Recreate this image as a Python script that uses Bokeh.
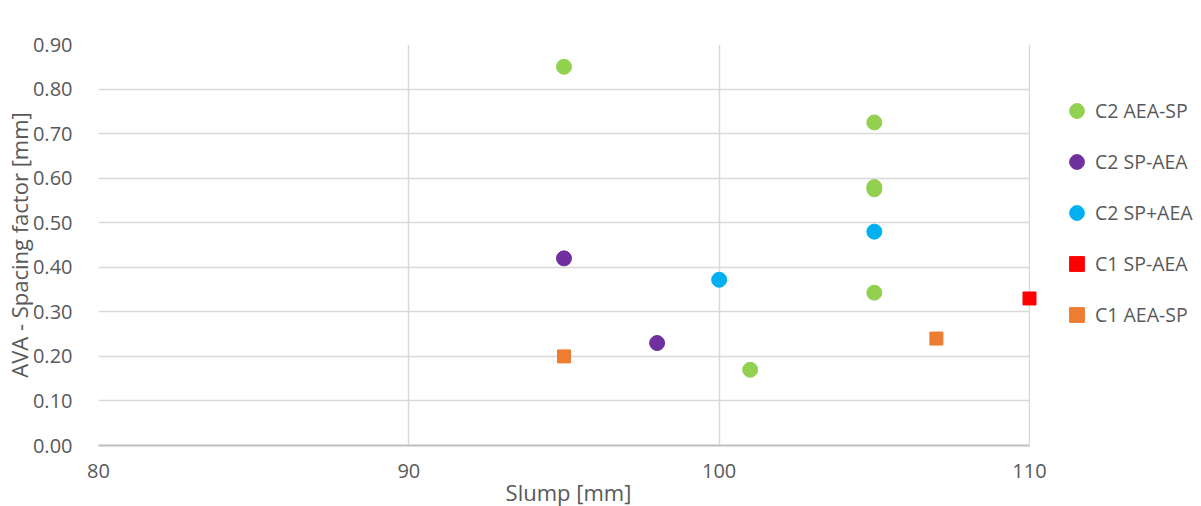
from bokeh.plotting import figure
from bokeh.models import Legend, LegendItem, FixedTicker, NumeralTickFormatter, Range1d, BoxAnnotation
from bokeh.embed import file_html
from bokeh.resources import INLINE

# Data
c2_aea_sp_x = [95, 105, 105, 105, 105, 101]
c2_aea_sp_y = [0.85, 0.725, 0.58, 0.575, 0.343, 0.17]
c2_sp_aea_x = [95, 98]
c2_sp_aea_y = [0.42, 0.23]
c2_sp_plus_aea_x = [100, 105]
c2_sp_plus_aea_y = [0.372, 0.48]
c1_sp_aea_x = [110]
c1_sp_aea_y = [0.33]
c1_aea_sp_x = [95, 107]
c1_aea_sp_y = [0.20, 0.24]

x_ticks = [80, 90, 100, 110]
y_ticks = [0.0, 0.1, 0.2, 0.3, 0.4, 0.5, 0.6, 0.7, 0.8, 0.9]
X_MIN, X_MAX = 80, 110

FONT = "Open Sans"
TXT = "#595959"

p = figure(width=1185, height=498, frame_width=940, frame_height=401,
           min_border_left=92, min_border_right=153, min_border_top=44, min_border_bottom=53,
           x_range=Range1d(X_MIN, X_MAX + 9 / 31.03), y_range=Range1d(0, 0.9),
           output_backend="svg", toolbar_location=None)
p.outline_line_color = None

p.xgrid.grid_line_color = "#D9D9D9"
p.ygrid.grid_line_color = "#D9D9D9"
p.xgrid.grid_line_width = 1.5
p.ygrid.grid_line_width = 1.5

# white mask beyond the last x value so the grid stops at 110 while markers can overflow
p.add_layout(BoxAnnotation(left=X_MAX + 0.02, fill_color="white", fill_alpha=1.0,
                           line_alpha=0, level="underlay"))

r1 = p.scatter(c2_aea_sp_x, c2_aea_sp_y, marker="circle", size=15, color="#92D050")
r2 = p.scatter(c2_sp_aea_x, c2_sp_aea_y, marker="circle", size=15, color="#7030A0")
r3 = p.scatter(c2_sp_plus_aea_x, c2_sp_plus_aea_y, marker="circle", size=15, color="#00B0F0")
r4 = p.scatter(c1_sp_aea_x, c1_sp_aea_y, marker="square", size=13, color="#FF0000")
r5 = p.scatter(c1_aea_sp_x, c1_aea_sp_y, marker="square", size=13, color="#ED7D31")

p.xaxis.ticker = FixedTicker(ticks=x_ticks)
p.yaxis.ticker = FixedTicker(ticks=y_ticks)
p.yaxis.formatter = NumeralTickFormatter(format="0.00")
p.xaxis.bounds = (X_MIN, X_MAX)

for ax in [p.xaxis[0], p.yaxis[0]]:
    ax.major_tick_line_color = None
    ax.minor_tick_line_color = None
    ax.major_label_text_font = FONT
    ax.major_label_text_font_size = "20px"
    ax.major_label_text_color = TXT
    ax.axis_label_text_font = FONT
    ax.axis_label_text_font_size = "22px"
    ax.axis_label_text_color = TXT
    ax.axis_label_text_font_style = "normal"

p.xaxis.axis_line_color = "#BFBFBF"
p.xaxis.axis_line_width = 2
p.yaxis.axis_line_color = None
p.xaxis.axis_label = "Slump [mm]"
p.yaxis.axis_label = "AVA - Spacing factor [mm]"
p.xaxis.major_label_standoff = 12
p.xaxis.axis_label_standoff = -4
p.yaxis.major_label_standoff = 20
p.yaxis.axis_label_standoff = -4

legend = Legend(items=[
    LegendItem(label="C2 AEA-SP", renderers=[r1]),
    LegendItem(label="C2 SP-AEA", renderers=[r2]),
    LegendItem(label="C2 SP+AEA", renderers=[r3]),
    LegendItem(label="C1 SP-AEA", renderers=[r4]),
    LegendItem(label="C1 AEA-SP", renderers=[r5]),
], location=(20, 112))
legend.glyph_width = 37
legend.glyph_height = 37
legend.label_height = 20
legend.spacing = 14
legend.padding = 0
legend.margin = 0
legend.label_standoff = -5
legend.border_line_color = None
legend.background_fill_alpha = 0
legend.label_text_font = FONT
legend.label_text_font_size = "19.5px"
legend.label_text_color = TXT
p.add_layout(legend, "right")

open("out.html", "w").write(file_html(p, INLINE))
